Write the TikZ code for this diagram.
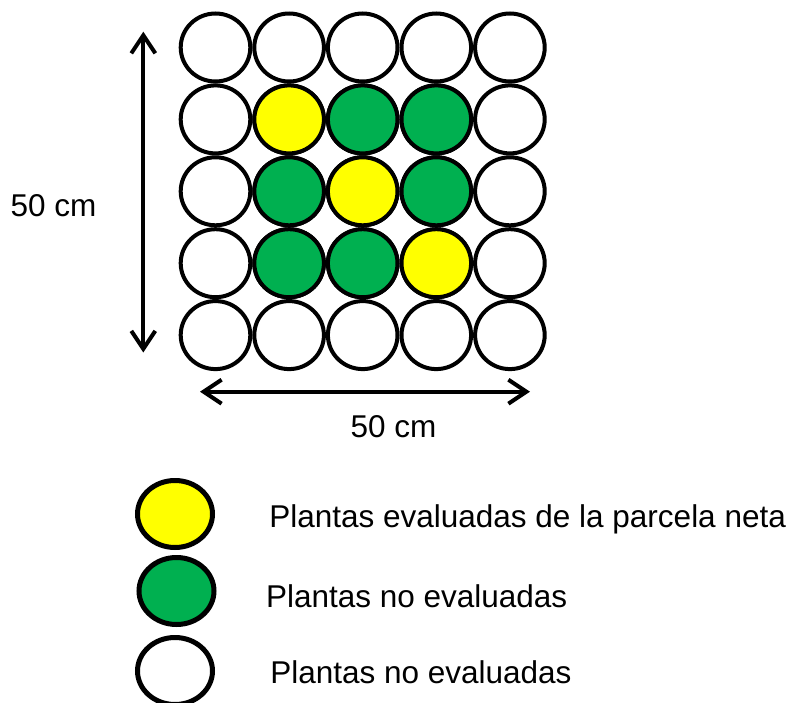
\documentclass[tikz,border=0pt]{standalone}
\usepackage{fontspec}
\setmainfont{Liberation Sans}
\usetikzlibrary{shapes.geometric,arrows.meta}
\definecolor{plantyellow}{HTML}{FFFF00}
\definecolor{plantgreen}{HTML}{00B050}
\tikzset{
  plant/.style={ellipse, draw=black, line width=4bp, minimum width=69.6bp, minimum height=68bp, inner sep=0pt, outer sep=0pt},
  legendplant/.style={ellipse, draw=black, line width=5bp, minimum width=75bp, minimum height=67bp, inner sep=0pt, outer sep=0pt},
  lbl/.style={anchor=base west, inner sep=0pt, outer sep=0pt, font=\fontsize{31.5bp}{36bp}\selectfont},
  dimarrow/.style={line width=4bp, {Straight Barb[length=18bp, width=24bp, line width=4bp]}-{Straight Barb[length=18bp, width=24bp, line width=4bp]}}
}
\begin{document}
\begin{tikzpicture}[x=1bp, y=-1bp]
\useasboundingbox (0,0) rectangle (798,703);
% grid
\foreach \c [count=\i] in {0,1,2,3,4} {
  \foreach \r [count=\j] in {0,1,2,3,4} {
    \node[plant, fill=white] (p\i\j) at ({215.5+73.6*\c},{47.5+71.9*\r}) {};
  }
}
\node[plant, fill=plantyellow] (y22) at (p22) {};
\node[plant, fill=plantgreen] (g32) at (p32) {};
\node[plant, fill=plantgreen] (g42) at (p42) {};
\node[plant, fill=plantgreen] (g23) at (p23) {};
\node[plant, fill=plantyellow] (y33) at (p33) {};
\node[plant, fill=plantgreen] (g43) at (p43) {};
\node[plant, fill=plantgreen] (g24) at (p24) {};
\node[plant, fill=plantgreen] (g34) at (p34) {};
\node[plant, fill=plantyellow] (y44) at (p44) {};
% dimension arrows
\coordinate (vtop) at (143.3,31.7);
\coordinate (vbot) at (143.3,352.5);
\coordinate (hleft) at (200,391.7);
\coordinate (hright) at (530,391.7);
\draw[dimarrow] (vtop) -- (vbot);
\draw[dimarrow] (hleft) -- (hright);
\node[lbl] (vlabel) at (10.5,216.7) {50 cm};
\node[lbl] (hlabel) at (350.5,437.3) {50 cm};
% legend
\node[legendplant, fill=plantyellow] (ly) at (175,514) {};
\node[legendplant, fill=plantgreen] (lg) at (176.5,591) {};
\node[legendplant, fill=white] (lw) at (175,671) {};
\node[lbl] (ty) at (269.3,527) {Plantas evaluadas de la parcela neta};
\node[lbl] (tg) at (266,607.3) {Plantas no evaluadas};
\node[lbl] (tw) at (270.3,683.3) {Plantas no evaluadas};
\end{tikzpicture}
\end{document}
